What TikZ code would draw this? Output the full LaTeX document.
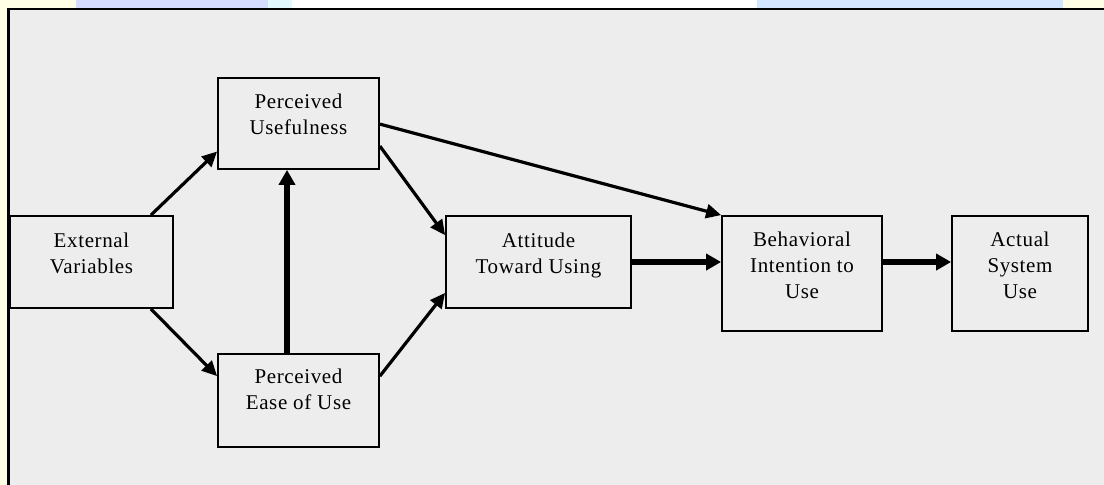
\documentclass[tikz,border=0pt]{standalone}
\usepackage{fontspec}
\setmainfont{Liberation Serif}[LetterSpace=3]
\usetikzlibrary{arrows.meta,positioning}
\definecolor{panelgray}{HTML}{EDEDED}
\definecolor{pageyellow}{HTML}{FFFFE6}
\definecolor{stripblue}{HTML}{D6DCFF}
\definecolor{stripcyan}{HTML}{E2F8FF}
\definecolor{stripsky}{HTML}{D4E6FF}

\begin{document}
\begin{tikzpicture}[x=1pt,y=-1pt,
  box/.style={draw=black,line width=1.8pt,fill=panelgray,inner sep=0pt},
  lbl/.style={align=center,inner sep=0pt,font=\fontsize{21}{26}\selectfont},
  link/.style={line width=3.2pt,-{Triangle[length=15pt,width=14pt]}},
  heavy/.style={line width=5.5pt,-{Triangle[length=15pt,width=16pt]}}]
\useasboundingbox (0,0) rectangle (1104,485);
\fill [pageyellow] (0,0) rectangle (1104,485);
\fill [white] (292,0) rectangle (757,9);
\fill [stripblue] (76,0) rectangle (268,9);
\fill [stripcyan] (268,0) rectangle (292,9);
\fill [stripsky] (757,0) rectangle (1063,9);
\draw [line width=2.5pt,fill=panelgray] (8.5,9) rectangle (1115,495);
\node [box,minimum width=163pt,minimum height=92pt] (ext) at (91.5,262) {};
\node [box,minimum width=161pt,minimum height=91pt] (pu) at (298.5,123.5) {};
\node [box,minimum width=161pt,minimum height=93pt] (peou) at (298.5,400.5) {};
\node [box,minimum width=185pt,minimum height=92pt] (att) at (538.5,262) {};
\node [box,minimum width=160pt,minimum height=115pt] (bi) at (802,273.5) {};
\node [box,minimum width=136pt,minimum height=115pt] (asu) at (1020,273.5) {};
\node [lbl,below=18pt of ext.north] (extlbl) {External\\Variables};
\node [lbl,below=17pt of pu.north] (pulbl) {Perceived\\Usefulness};
\node [lbl,below=16pt of peou.north] (peoulbl) {Perceived\\Ease of Use};
\node [lbl,below=18pt of att.north] (attlbl) {Attitude\\Toward Using};
\node [lbl,below=17pt of bi.north] (bilbl) {Behavioral\\Intention to\\Use};
\node [lbl,below=17pt of asu.north] (asulbl) {Actual\\System\\Use};
\draw [link] ([xshift=-23pt]ext.north east) -- ([yshift=-28pt]pu.west);
\draw [link] ([xshift=-23pt]ext.south east) -- ([yshift=-23pt]peou.north west);
\draw [heavy] ([xshift=-11.5pt]peou.north) -- ([xshift=-11.5pt]pu.south);
\draw [link] ([yshift=-69pt]pu.north east) -- ([yshift=-20pt]att.north west);
\draw [link] ([yshift=-47pt]pu.north east) -- (bi.north west);
\draw [link] ([yshift=-23pt]peou.north east) -- ([yshift=16pt]att.south west);
\draw [heavy] (att.east) -- (att.east -| bi.west);
\draw [heavy] ([yshift=11.5pt]bi.east) -- ([yshift=11.5pt]asu.west);
\end{tikzpicture}
\end{document}
